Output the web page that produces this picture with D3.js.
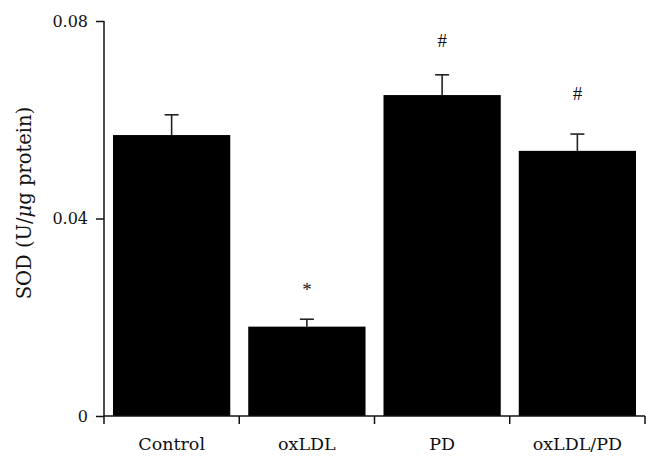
<!DOCTYPE html>
<html>
<head>
<meta charset="utf-8">
<script src="https://cdn.jsdelivr.net/npm/d3@7"></script>
<style>
  html, body { margin: 0; padding: 0; background: #fff; }
  svg { display: block; }
  text { fill: #111; }
</style>
</head>
<body>
<svg id="chart" width="660" height="464"></svg>
<script>
const categories = ["Control", "oxLDL", "PD", "oxLDL/PD"];
const values = [0.0569, 0.0181, 0.0650, 0.0537];
const errors = [0.0041, 0.0015, 0.0041, 0.0034];
const marks = ["", "*", "#", "#"];
const markLevels = [null, 0.0244, 0.0748, 0.0640];
const yTicks = [0, 0.04, 0.08];
const yTickLabels = ["0", "0.04", "0.08"];
const yLabelParts = ["SOD (U/", "μ", "g protein)"];

const serif = "'DejaVu Serif', 'Liberation Serif', serif";
const svg = d3.select("#chart");
const x = d3.scaleBand().domain(categories).range([104, 645]).paddingInner(0.133).paddingOuter(0.0665);
const y = d3.scaleLinear().domain([0, 0.08]).range([416, 21]);

// bars
svg.append("g").selectAll("rect").data(categories).join("rect")
  .attr("x", d => x(d))
  .attr("y", (d, i) => y(values[i]))
  .attr("width", x.bandwidth())
  .attr("height", (d, i) => y(0) - y(values[i]))
  .attr("fill", "#000");

// error bars (upper only)
const eg = svg.append("g").attr("stroke", "#222").attr("stroke-width", 1.6);
categories.forEach((c, i) => {
  const cx = x(c) + x.bandwidth() / 2;
  eg.append("line").attr("x1", cx).attr("x2", cx).attr("y1", y(values[i])).attr("y2", y(values[i] + errors[i]));
  eg.append("line").attr("x1", cx - 7).attr("x2", cx + 7).attr("y1", y(values[i] + errors[i])).attr("y2", y(values[i] + errors[i]));
});

// significance marks
svg.append("g").selectAll("text").data(categories.filter((d, i) => marks[i])).join("text")
  .attr("x", d => x(d) + x.bandwidth() / 2)
  .attr("y", d => y(markLevels[categories.indexOf(d)]))
  .attr("text-anchor", "middle")
  .style("font-family", "'Liberation Serif', serif")
  .style("font-size", "19px")
  .text(d => marks[categories.indexOf(d)]);

// y axis
const yAxis = d3.axisLeft(y).tickValues(yTicks).tickFormat((d, i) => yTickLabels[i]).tickSize(8).tickSizeOuter(0).tickPadding(8);
const gy = svg.append("g").attr("transform", "translate(104,0)").call(yAxis);
gy.select(".domain").attr("d", "M0,21V424").attr("stroke", "#111").attr("stroke-width", 1.5);
gy.selectAll(".tick line").attr("stroke", "#111").attr("stroke-width", 1.5);
gy.selectAll(".tick text").style("font-size", "16px").style("font-family", serif).attr("fill", "#111").attr("dy", "0.34em");

// x axis
const gx = svg.append("g").attr("transform", "translate(0,416)");
gx.append("line").attr("x1", 104).attr("x2", 645).attr("stroke", "#111").attr("stroke-width", 1.5);
const bounds = categories.map(c => x(c) - x.step() * x.paddingInner() / 2).concat([645]);
gx.selectAll("line.b").data(bounds.slice(1)).join("line").attr("class", "b")
  .attr("x1", d => d).attr("x2", d => d).attr("y1", 0).attr("y2", 8)
  .attr("stroke", "#111").attr("stroke-width", 1.5);
gx.selectAll("text").data(categories).join("text")
  .attr("x", d => x(d) + x.bandwidth() / 2)
  .attr("y", 34)
  .attr("text-anchor", "middle")
  .style("font-family", serif)
  .style("font-size", "17.5px")
  .text(d => d);

// y label
const yl = svg.append("text")
  .attr("transform", "translate(31,203) rotate(-90)")
  .attr("text-anchor", "middle")
  .style("font-family", serif)
  .style("font-size", "19.5px");
yl.selectAll("tspan").data(yLabelParts).join("tspan")
  .style("font-style", (d, i) => i === 1 ? "italic" : null)
  .text(d => d);
</script>
</body>
</html>
